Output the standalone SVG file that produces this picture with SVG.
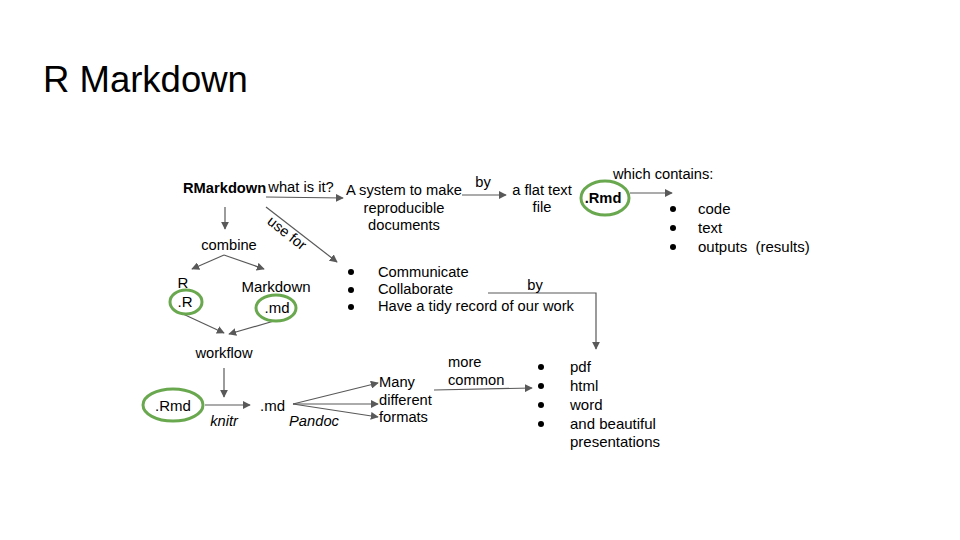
<svg xmlns="http://www.w3.org/2000/svg" width="960" height="540" viewBox="0 0 960 540">
<style>
text{font-family:"Liberation Sans",Arial,sans-serif;fill:#000;font-size:14.7px}
.c{text-anchor:middle}
.t{font-size:15px}
.i{font-style:italic}
.b{font-weight:bold}
.ln{stroke:#595959;stroke-width:1.2;fill:none}
.ov{fill:none;stroke:#6aa84f;stroke-width:3}
</style>
<defs>
<marker id="ah" viewBox="0 0 10 10" refX="9" refY="5" markerWidth="8" markerHeight="8" markerUnits="userSpaceOnUse" orient="auto"><path d="M0,0 L10,5 L0,10 z" fill="#595959"/></marker>
</defs>
<rect width="960" height="540" fill="#fff"/>
<text x="43" y="92" style="font-size:36.5px">R Markdown</text>

<g id="connectors">
<line class="ln" x1="266" y1="197" x2="343" y2="198" marker-end="url(#ah)"/>
<line class="ln" x1="462" y1="195" x2="506" y2="195" marker-end="url(#ah)"/>
<line class="ln" x1="630" y1="193" x2="672" y2="193" marker-end="url(#ah)"/>
<line class="ln" x1="266" y1="207" x2="337" y2="262" marker-end="url(#ah)"/>
<line class="ln" x1="225" y1="207" x2="225" y2="229" marker-end="url(#ah)"/>
<line class="ln" x1="224" y1="255" x2="192" y2="269" marker-end="url(#ah)"/>
<line class="ln" x1="224" y1="255" x2="264" y2="269" marker-end="url(#ah)"/>
<line class="ln" x1="183" y1="314" x2="224" y2="333" marker-end="url(#ah)"/>
<line class="ln" x1="274" y1="321" x2="229" y2="334" marker-end="url(#ah)"/>
<line class="ln" x1="224" y1="368" x2="224" y2="397" marker-end="url(#ah)"/>
<line class="ln" x1="205" y1="405" x2="250" y2="405" marker-end="url(#ah)"/>
<line class="ln" x1="293" y1="404" x2="378" y2="383" marker-end="url(#ah)"/>
<line class="ln" x1="293" y1="404" x2="378" y2="404" marker-end="url(#ah)"/>
<line class="ln" x1="293" y1="404" x2="378" y2="417" marker-end="url(#ah)"/>
<line class="ln" x1="434" y1="390" x2="532" y2="388" marker-end="url(#ah)"/>
<polyline class="ln" points="488,293 596,293 596,349" marker-end="url(#ah)"/>
<text class="c" transform="translate(287,233) rotate(38)" x="0" y="5">use for</text>
<text x="535" y="290" class="c">by</text>
<text x="483" y="187" class="c">by</text>
<text x="301" y="192" class="c">what is it?</text>
<text x="448" y="367">more</text>
<text x="448" y="385">common</text>
<text x="224" y="426" class="c i">knitr</text>
<text x="314" y="426" class="c i">Pandoc</text>
</g>

<g id="rmarkdown"><text x="183" y="193" class="b">RMarkdown</text></g>
<g id="system"><text x="404" y="195" class="c">A system to make</text><text x="404" y="213" class="c">reproducible</text><text x="404" y="230" class="c">documents</text></g>
<g id="flat"><text x="542" y="195" class="c">a flat text</text><text x="542" y="212" class="c">file</text></g>
<g id="rmd1"><ellipse class="ov" cx="605" cy="198" rx="24" ry="17"/><text x="603" y="203" class="c b">.Rmd</text></g>
<g id="contains"><text x="613" y="179">which contains:</text>
<circle cx="673" cy="209" r="3"/><text x="698" y="214" class="t">code</text>
<circle cx="673" cy="228" r="3"/><text x="698" y="233" class="t">text</text>
<circle cx="673" cy="247" r="3"/><text x="698" y="252" class="t" xml:space="preserve">outputs  (results)</text></g>
<g id="combine"><text x="229" y="250" class="c">combine</text></g>
<g id="r"><text x="183" y="288" class="c t">R</text><ellipse class="ov" cx="186" cy="302" rx="16" ry="12"/><text x="185" y="307" class="c t">.R</text></g>
<g id="markdown"><text x="276" y="292" class="c t">Markdown</text><ellipse class="ov" cx="276" cy="308" rx="20" ry="13"/><text x="277" y="313" class="c t">.md</text></g>
<g id="workflow"><text x="224" y="358" class="c">workflow</text></g>
<g id="rmd2"><ellipse class="ov" cx="173" cy="405" rx="30" ry="16"/><text x="173" y="411" class="c t">.Rmd</text></g>
<g id="md"><text x="260" y="411" class="t">.md</text></g>
<g id="formats"><text x="379" y="387">Many</text><text x="379" y="405">different</text><text x="379" y="422">formats</text></g>
<g id="uses">
<circle cx="351" cy="272" r="3"/><text x="378" y="277">Communicate</text>
<circle cx="351" cy="290" r="3"/><text x="378" y="294">Collaborate</text>
<circle cx="351" cy="307" r="3"/><text x="378" y="311">Have a tidy record of our work</text></g>
<g id="outputs">
<circle cx="541" cy="367" r="3"/><text x="570" y="372" class="t">pdf</text>
<circle cx="541" cy="386" r="3"/><text x="570" y="391" class="t">html</text>
<circle cx="541" cy="405" r="3"/><text x="570" y="410" class="t">word</text>
<circle cx="541" cy="424" r="3"/><text x="570" y="429" class="t">and beautiful</text>
<text x="570" y="447" class="t">presentations</text></g>
</svg>
